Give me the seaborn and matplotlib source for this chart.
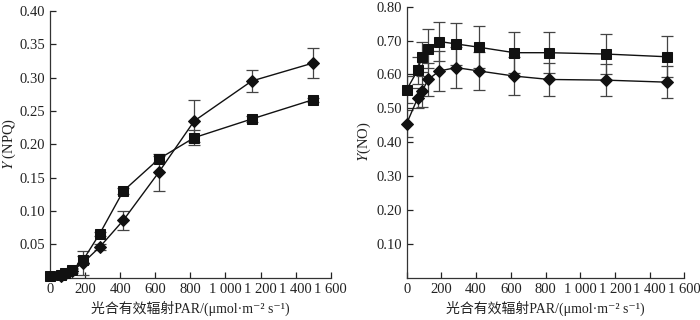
import numpy as np
import pandas as pd
import matplotlib
matplotlib.use('Agg')
import matplotlib.pyplot as plt
import seaborn as sns

# PAR levels (umol m-2 s-1)
par = [0, 63, 88, 124, 188, 284, 418, 620, 822, 1150, 1500]

# Y(NPQ)
npq_sq = [0.002, 0.004, 0.007, 0.012, 0.026, 0.066, 0.130, 0.178, 0.210, 0.238, 0.267]
npq_sq_err = [0.001, 0.002, 0.002, 0.002, 0.006, 0.003, 0.004, 0.004, 0.011, 0.004, 0.003]
npq_di = [None, 0.002, 0.006, 0.010, 0.022, 0.046, 0.086, 0.158, 0.235, 0.295, 0.322]
npq_di_err = [None, 0.004, 0.003, 0.003, 0.018, 0.005, 0.014, 0.028, 0.031, 0.016, 0.023]

# Y(NO)
no_sq = [0.555, 0.612, 0.652, 0.676, 0.697, 0.690, 0.680, 0.664, 0.664, 0.660, 0.652]
no_sq_err = [0.040, 0.040, 0.045, 0.057, 0.058, 0.062, 0.062, 0.060, 0.060, 0.060, 0.060]
no_di = [0.455, 0.530, 0.550, 0.585, 0.610, 0.620, 0.610, 0.595, 0.585, 0.583, 0.577]
no_di_err = [0.040, 0.030, 0.045, 0.050, 0.060, 0.060, 0.055, 0.055, 0.048, 0.048, 0.048]

xticks = [0, 200, 400, 600, 800, 1000, 1200, 1400, 1600]
xticklabels = ['0', '200', '400', '600', '800', '1 000', '1 200', '1 400', '1 600']

sns.set_style('ticks')
plt.rcParams['font.family'] = ['Liberation Serif', 'Noto Sans CJK SC', 'DejaVu Serif', 'DejaVu Sans']
plt.rcParams['mathtext.fontset'] = 'stix'
plt.rcParams['font.size'] = 10

fig = plt.figure(figsize=(7, 3.2), dpi=100)
ax1 = fig.add_axes([0.0714, 0.1325, 0.401, 0.833])
ax2 = fig.add_axes([0.581, 0.1323, 0.3966, 0.847])

xlabel = '光合有效辐射PAR/(μmol·m⁻² s⁻¹)'


def panel(ax, y_sq, e_sq, y_di, e_di, ylim, yticks, ylabel, ylx):
    df = pd.DataFrame({
        'PAR': par + par,
        'val': y_sq + y_di,
        'grp': ['sq'] * len(par) + ['di'] * len(par),
    }).dropna()
    sns.lineplot(data=df, x='PAR', y='val', style='grp',
                 markers={'sq': 's', 'di': 'D'}, dashes=False,
                 color='#111111', lw=1, ms=7.5, markeredgecolor='#111111',
                 legend=False, ax=ax, zorder=3, clip_on=False)
    # diamonds a bit smaller than squares
    for ln in ax.get_lines():
        if ln.get_marker() == 'D':
            ln.set_markersize(6.3)
    d = df[df.grp == 'sq']
    ax.errorbar(d['PAR'], d['val'], yerr=e_sq, fmt='none',
                ecolor='#444444', elinewidth=0.9, capsize=4, capthick=0.9, zorder=2)
    d = df[df.grp == 'di']
    ed = [e for e in e_di if e is not None]
    ax.errorbar(d['PAR'], d['val'], yerr=ed, fmt='none',
                ecolor='#444444', elinewidth=0.9, capsize=4, capthick=0.9, zorder=2)
    ax.set_xlim(0, 1600)
    ax.set_ylim(*ylim)
    ax.set_xticks(xticks)
    ax.set_xticklabels(xticklabels)
    ax.set_yticks(yticks)
    ax.set_yticklabels(['%.2f' % t for t in yticks])
    ax.tick_params(direction='in', length=4, width=0.9, colors='#222222',
                   labelsize=10.5, labelcolor='#222222')
    ax.tick_params(axis='x', pad=4)
    for s in ['left', 'bottom']:
        ax.spines[s].set_color('#333333')
        ax.spines[s].set_linewidth(0.9)
    sns.despine(ax=ax)
    ax.set_xlabel(xlabel, fontsize=10, color='#222222')
    ax.xaxis.set_label_coords(0.5, -0.085)
    ax.set_ylabel(ylabel, fontsize=10.5, color='#222222')
    ax.yaxis.set_label_coords(ylx, 0.5)


panel(ax1, npq_sq, npq_sq_err, npq_di, npq_di_err, (0, 0.40),
      [0.05, 0.10, 0.15, 0.20, 0.25, 0.30, 0.35, 0.40], r'$\mathit{Y}$ (NPQ)', -0.113)
panel(ax2, no_sq, no_sq_err, no_di, no_di_err, (0, 0.80),
      [0.10, 0.20, 0.30, 0.40, 0.50, 0.60, 0.70, 0.80], r'$\mathit{Y}$(NO)', -0.121)

fig.savefig('out.png', dpi=100)
